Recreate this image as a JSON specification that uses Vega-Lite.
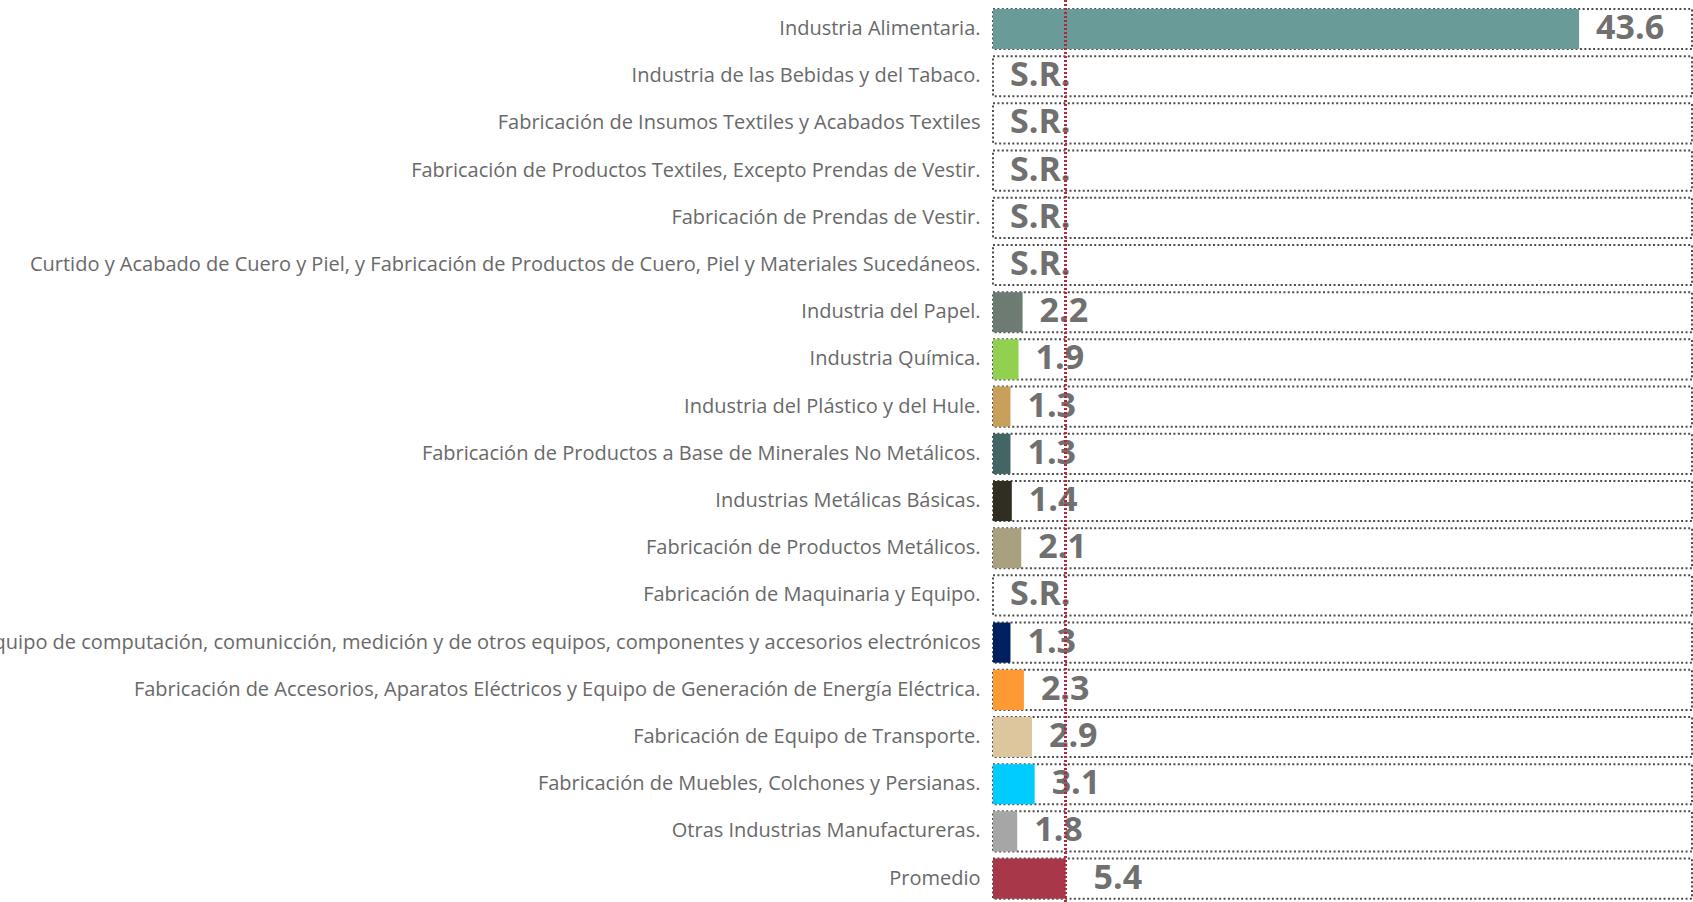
{
  "$schema": "https://vega.github.io/schema/vega-lite/v6.json",
  "width": 699,
  "height": 902,
  "autosize": {"type": "none"},
  "padding": {"left": 993, "top": 0, "right": 1, "bottom": 0},
  "background": "white",
  "config": {"view": {"stroke": null}},
  "data": {
    "values": [
      {"sector": "Industria Alimentaria.", "valor": 43.6},
      {"sector": "Industria de las Bebidas y del Tabaco.", "valor": null},
      {"sector": "Fabricación de Insumos Textiles y Acabados Textiles", "valor": null},
      {"sector": "Fabricación de Productos Textiles, Excepto Prendas de Vestir.", "valor": null},
      {"sector": "Fabricación de Prendas de Vestir.", "valor": null},
      {"sector": "Curtido y Acabado de Cuero y Piel, y Fabricación de Productos de Cuero, Piel y Materiales Sucedáneos.", "valor": null},
      {"sector": "Industria del Papel.", "valor": 2.2},
      {"sector": "Industria Química.", "valor": 1.9},
      {"sector": "Industria del Plástico y del Hule.", "valor": 1.3},
      {"sector": "Fabricación de Productos a Base de Minerales No Metálicos.", "valor": 1.3},
      {"sector": "Industrias Metálicas Básicas.", "valor": 1.4},
      {"sector": "Fabricación de Productos Metálicos.", "valor": 2.1},
      {"sector": "Fabricación de Maquinaria y Equipo.", "valor": null},
      {"sector": "Fabricación de Equipo de computación, comunicción, medición y de otros equipos, componentes y accesorios electrónicos", "valor": 1.3},
      {"sector": "Fabricación de Accesorios, Aparatos Eléctricos y Equipo de Generación de Energía Eléctrica.", "valor": 2.3},
      {"sector": "Fabricación de Equipo de Transporte.", "valor": 2.9},
      {"sector": "Fabricación de Muebles, Colchones y Persianas.", "valor": 3.1},
      {"sector": "Otras Industrias Manufactureras.", "valor": 1.8},
      {"sector": "Promedio", "valor": 5.4}
    ]
  },
  "layer": [
    {
      "mark": {"type": "rect", "fill": null, "stroke": "#4d4d4d", "strokeWidth": 2, "strokeDash": [2, 2.4]},
      "encoding": {
        "y": {
          "field": "sector",
          "type": "nominal",
          "sort": null,
          "scale": {"paddingInner": 0.15, "paddingOuter": 0.13, "align": 0.73},
          "axis": {
            "title": null,
            "domain": false,
            "ticks": false,
            "labelFont": "Open Sans",
            "labelFontSize": 20,
            "labelColor": "#696969",
            "labelPadding": 13,
            "labelLimit": 3000
          }
        },
        "x": {"datum": 0, "type": "quantitative", "scale": {"domain": [0, 52], "nice": false, "zero": true}, "axis": null},
        "x2": {"datum": 52}
      }
    },
    {
      "transform": [{"filter": "datum.valor != null"}],
      "mark": {"type": "bar"},
      "encoding": {
        "y": {"field": "sector", "type": "nominal", "sort": null},
        "x": {"field": "valor", "type": "quantitative", "axis": null},
        "color": {
          "field": "sector",
          "type": "nominal",
          "legend": null,
          "scale": {
            "domain": [
              "Industria Alimentaria.",
              "Industria del Papel.",
              "Industria Química.",
              "Industria del Plástico y del Hule.",
              "Fabricación de Productos a Base de Minerales No Metálicos.",
              "Industrias Metálicas Básicas.",
              "Fabricación de Productos Metálicos.",
              "Fabricación de Equipo de computación, comunicción, medición y de otros equipos, componentes y accesorios electrónicos",
              "Fabricación de Accesorios, Aparatos Eléctricos y Equipo de Generación de Energía Eléctrica.",
              "Fabricación de Equipo de Transporte.",
              "Fabricación de Muebles, Colchones y Persianas.",
              "Otras Industrias Manufactureras.",
              "Promedio"
            ],
            "range": ["#699B98", "#6D7B72", "#92D050", "#C9A059", "#426663", "#302E22", "#A8A07F", "#002060", "#FF9933", "#DDC69D", "#00CCFF", "#A6A6A6", "#A8374A"]
          }
        }
      }
    },
    {
      "transform": [{"filter": "datum.valor != null && datum.sector != 'Promedio'"}],
      "mark": {"type": "text", "align": "left", "baseline": "middle", "dx": 17, "font": "Open Sans", "fontWeight": "bold", "fontSize": 34, "color": "#707070"},
      "encoding": {
        "y": {"field": "sector", "type": "nominal", "sort": null},
        "x": {"field": "valor", "type": "quantitative"},
        "text": {"field": "valor", "type": "quantitative", "format": ".1f"}
      }
    },
    {
      "transform": [{"filter": "datum.sector == 'Promedio'"}],
      "mark": {"type": "text", "align": "left", "baseline": "middle", "dx": 28, "font": "Open Sans", "fontWeight": "bold", "fontSize": 34, "color": "#707070"},
      "encoding": {
        "y": {"field": "sector", "type": "nominal", "sort": null},
        "x": {"field": "valor", "type": "quantitative"},
        "text": {"field": "valor", "type": "quantitative", "format": ".1f"}
      }
    },
    {
      "transform": [{"filter": "datum.valor == null"}],
      "mark": {"type": "text", "align": "left", "baseline": "middle", "dx": 17, "font": "Open Sans", "fontWeight": "bold", "fontSize": 34, "color": "#707070", "text": "S.R."},
      "encoding": {
        "y": {"field": "sector", "type": "nominal", "sort": null},
        "x": {"datum": 0, "type": "quantitative"}
      }
    },
    {
      "mark": {"type": "rule", "color": "#B5283D", "strokeWidth": 2, "strokeDash": [2, 2]},
      "encoding": {
        "x": {"datum": 5.4, "type": "quantitative"}
      }
    }
  ]
}
